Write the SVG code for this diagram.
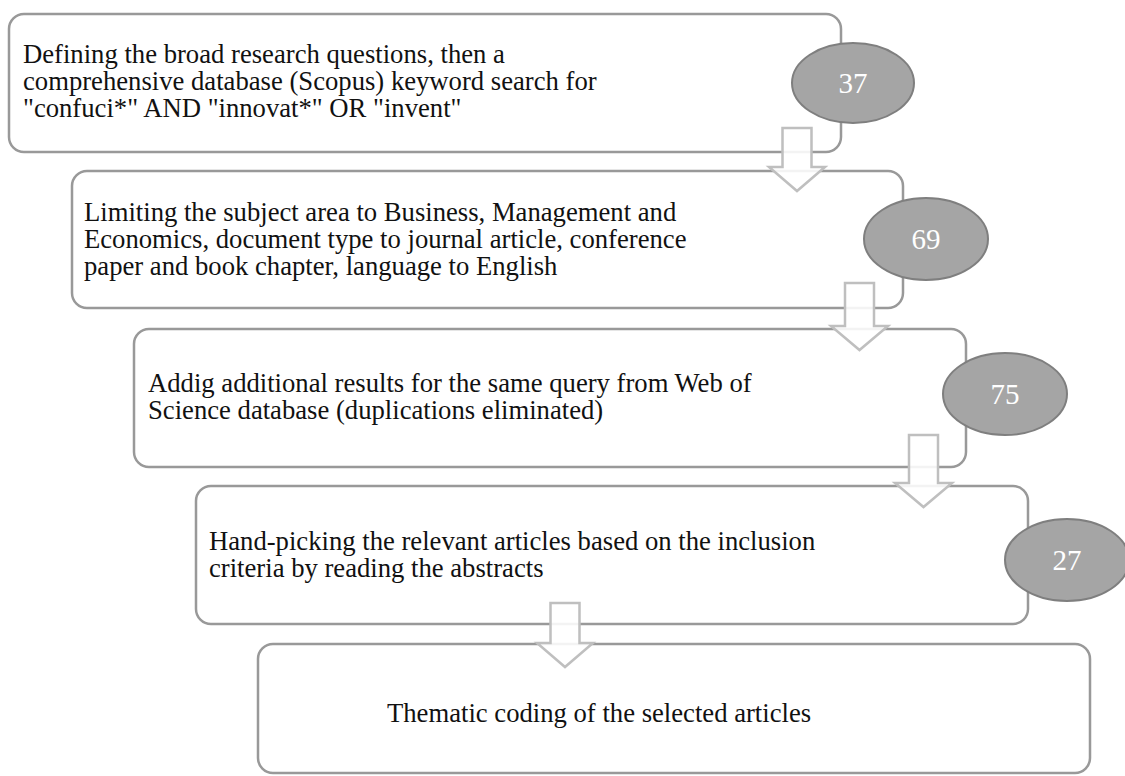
<svg xmlns="http://www.w3.org/2000/svg" width="1125" height="776" viewBox="0 0 1125 776">
<defs>
<style>
.box{fill:#ffffff;stroke:#999999;stroke-width:2.5}
.num{fill:#a5a5a5;stroke:#7f7f7f;stroke-width:2}
.t{font-family:"Liberation Serif","Times New Roman",serif;font-size:26.67px;fill:#111111}
.n{font-family:"Liberation Serif","Times New Roman",serif;font-size:29px;fill:#ffffff;text-anchor:middle}
.arrow{fill:#ffffff;fill-opacity:0.88;stroke:#bfbfbf;stroke-width:2.5;stroke-linejoin:miter}
</style>
</defs>
<rect width="1125" height="776" fill="#ffffff"/>
<g id="step1">
<rect class="box" x="9" y="14" width="832" height="138" rx="15"/>
<text class="t" x="23" y="63">Defining the broad research questions, then a</text>
<text class="t" x="23" y="90">comprehensive database (Scopus) keyword search for</text>
<text class="t" x="23" y="117">"confuci*" AND "innovat*" OR "invent"</text>
</g>
<g id="step2">
<rect class="box" x="72" y="171" width="831" height="137" rx="15"/>
<text class="t" x="84" y="221">Limiting the subject area to Business, Management and</text>
<text class="t" x="84" y="248">Economics, document type to journal article, conference</text>
<text class="t" x="84" y="275">paper and book chapter, language to English</text>
</g>
<g id="step3">
<rect class="box" x="134" y="329" width="832" height="138" rx="15"/>
<text class="t" x="148" y="392">Addig additional results for the same query from Web of</text>
<text class="t" x="148" y="419">Science database (duplications eliminated)</text>
</g>
<g id="step4">
<rect class="box" x="196" y="486" width="832" height="138" rx="15"/>
<text class="t" x="209" y="550">Hand-picking the relevant articles based on the inclusion</text>
<text class="t" x="209" y="577">criteria by reading the abstracts</text>
</g>
<g id="step5">
<rect class="box" x="258" y="644" width="832" height="129" rx="15"/>
<text class="t" x="387" y="722">Thematic coding of the selected articles</text>
</g>
<g id="count37">
<ellipse class="num" cx="853" cy="83" rx="61" ry="40"/>
<text class="n" x="853" y="93">37</text>
</g>
<g id="count69">
<ellipse class="num" cx="926" cy="239" rx="62" ry="41"/>
<text class="n" x="926" y="249">69</text>
</g>
<g id="count75">
<ellipse class="num" cx="1005" cy="394" rx="62" ry="41"/>
<text class="n" x="1005" y="404">75</text>
</g>
<g id="count27">
<ellipse class="num" cx="1067" cy="560" rx="62" ry="41"/>
<text class="n" x="1067" y="570">27</text>
</g>
<g id="connectors">
<path class="arrow" d="M782.5,128 H811.5 V167 H825 L797,191 L769,167 H782.5 Z"/>
<path class="arrow" d="M845,283 H874 V326 H888 L859.5,350 L831,326 H845 Z"/>
<path class="arrow" d="M909,435 H938 V483 H952 L923.5,507 L895,483 H909 Z"/>
<path class="arrow" d="M550.5,603 H579.5 V643 H593 L565,667 L537,643 H550.5 Z"/>
</g>
</svg>
